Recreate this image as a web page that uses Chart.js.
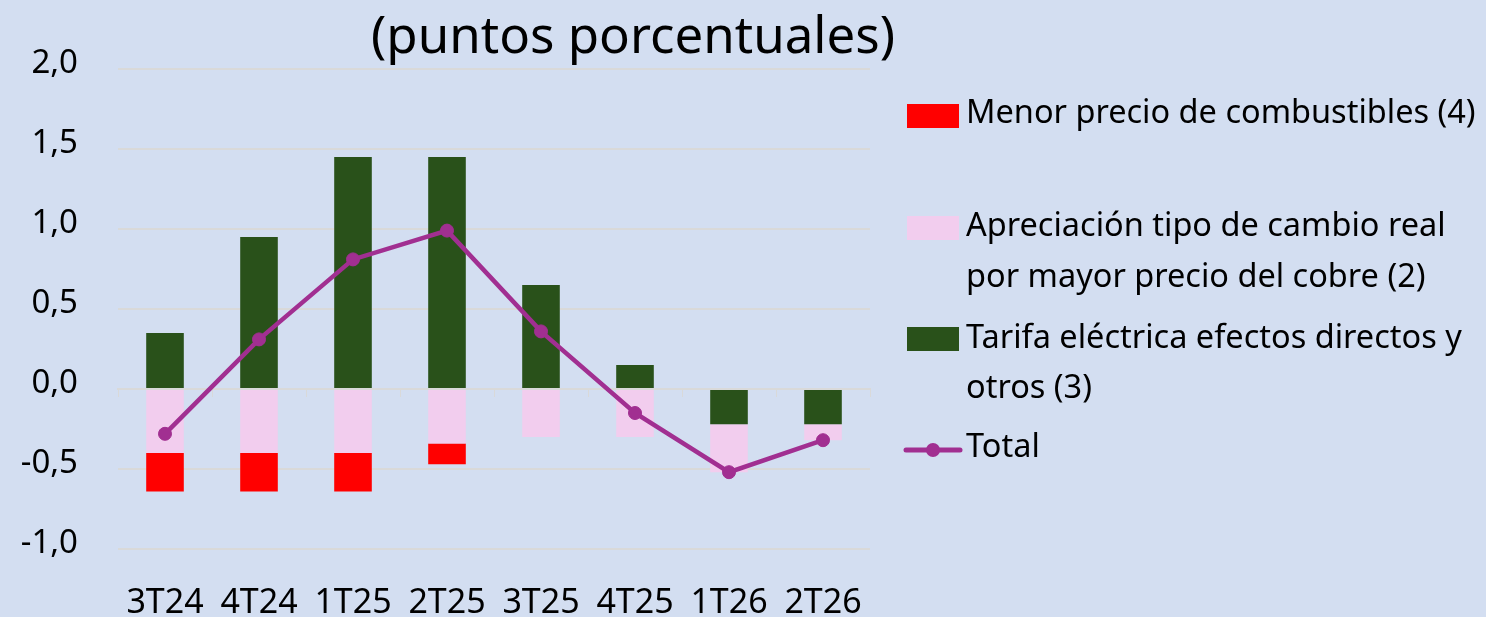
<!DOCTYPE html>
<html>
<head>
<meta charset="utf-8">
<script src="https://cdn.jsdelivr.net/npm/chart.js@4.4.1/dist/chart.umd.min.js"></script>
<style>
  html, body { margin: 0; padding: 0; background: #D3DEF1; }
  #wrap { position: relative; width: 1486px; height: 617px; overflow: hidden; font-family: "Noto Sans", sans-serif; color: #000; }
  #chart { position: absolute; left: 0; top: 0; }
  #title { position: absolute; left: 0; width: 1266px; top: 8px; text-align: center; font-size: 51px; line-height: 51px; white-space: nowrap; }
  .sw { position: absolute; left: 907px; width: 52px; height: 24px; }
  .txt { position: absolute; left: 966px; white-space: nowrap; font-size: 32.5px; line-height: 33px; }
</style>
</head>
<body>
<div id="wrap">
  <canvas id="chart" width="1486" height="617"></canvas>
  <div id="title">(puntos porcentuales)</div>
  <div id="legend"></div>
</div>
<script>
// --- Données --- //
const quarters = ["3T24", "4T24", "1T25", "2T25", "3T25", "4T25", "1T26", "2T26"];
const tarifa = [0.35, 0.95, 1.45, 1.45, 0.65, 0.15, -0.22, -0.22];
const apreciacion = [-0.40, -0.40, -0.40, -0.34, -0.30, -0.30, -0.30, -0.10];
const combustibles = [-0.24, -0.24, -0.24, -0.13, 0, 0, 0, 0];
const total = [-0.28, 0.31, 0.81, 0.99, 0.36, -0.15, -0.52, -0.32];
const yTicks = [-1.0, -0.5, 0.0, 0.5, 1.0, 1.5, 2.0];

const green = "#29511A";
const pink = "#F2CDEE";
const red = "#FF0000";
const purple = "#A12F91";
const gridColor = "#D9D9D9";

// --- Légende HTML (baseline de chaque ligne) --- //
const legendItems = [
    { swTop: 104, color: red, lines: ["Menor precio de combustibles (4)"], base: [123] },
    { swTop: 216, color: pink, lines: ["Apreciación tipo de cambio real", "por mayor precio del cobre (2)"], base: [236, 287] },
    { swTop: 327, color: green, lines: ["Tarifa eléctrica efectos directos y", "otros (3)"], base: [348, 398] },
    { swTop: null, color: purple, lines: ["Total"], base: [457] }
];

const legend = document.getElementById("legend");
legendItems.forEach(it => {
    if (it.swTop !== null) {
        legend.innerHTML += `<div class="sw" style="background:${it.color};top:${it.swTop}px"></div>`;
    } else {
        legend.innerHTML += `
            <svg width="62" height="20" style="position:absolute;left:902px;top:440px">
                <line x1="4" y1="10" x2="58" y2="10" stroke="${purple}" stroke-width="5" stroke-linecap="round"/>
                <circle cx="31" cy="10" r="7" fill="${purple}"/>
            </svg>`;
    }
    it.lines.forEach((l, i) => {
        legend.innerHTML += `<div class="txt" style="top:${it.base[i] - 29}px">${l}</div>`;
    });
});

// --- Graphique --- //
const ctx = document.getElementById("chart").getContext("2d");
const fontFamily = "'Noto Sans', sans-serif";

new Chart(ctx, {
    type: "bar",
    data: {
        labels: quarters,
        datasets: [
            { label: "Tarifa eléctrica efectos directos y otros (3)", data: tarifa, backgroundColor: green, order: 1 },
            { label: "Apreciación tipo de cambio real por mayor precio del cobre (2)", data: apreciacion, backgroundColor: pink, order: 1 },
            { label: "Menor precio de combustibles (4)", data: combustibles, backgroundColor: red, order: 1 },
            {
                type: "line", label: "Total", data: total, order: 0,
                borderColor: purple, backgroundColor: purple, borderWidth: 4.5,
                pointRadius: 6.5, pointHoverRadius: 6.5, pointBorderWidth: 1, tension: 0
            }
        ]
    },
    options: {
        responsive: false,
        animation: false,
        layout: { padding: { top: 69, right: 616, left: 0, bottom: 0 } },
        plugins: { legend: { display: false }, tooltip: { enabled: false } },
        datasets: { bar: { barPercentage: 0.8, categoryPercentage: 0.5 } },
        scales: {
            x: {
                stacked: true,
                grid: { display: false },
                border: { display: false },
                ticks: { color: "#000", padding: 26, font: { family: fontFamily, size: 34 } },
                afterFit: s => { s.height = 68; }
            },
            x2: {
                type: "category",
                position: { y: 0 },
                offset: true,
                grid: { offset: true, drawOnChartArea: false, drawTicks: true, tickLength: 7, color: gridColor },
                border: { display: true, color: gridColor, width: 2 },
                ticks: { display: false }
            },
            y: {
                stacked: true,
                min: -1.0,
                max: 2.0,
                afterBuildTicks: s => { s.ticks = yTicks.map(v => ({ value: v })); },
                grid: { color: gridColor, lineWidth: 2, drawTicks: false },
                border: { display: false },
                ticks: {
                    color: "#000", padding: 40, labelOffset: -5,
                    font: { family: fontFamily, size: 33 },
                    callback: v => v.toFixed(1).replace(".", ",")
                },
                afterFit: s => { s.width = 118; }
            }
        }
    }
});
</script>
</body>
</html>
